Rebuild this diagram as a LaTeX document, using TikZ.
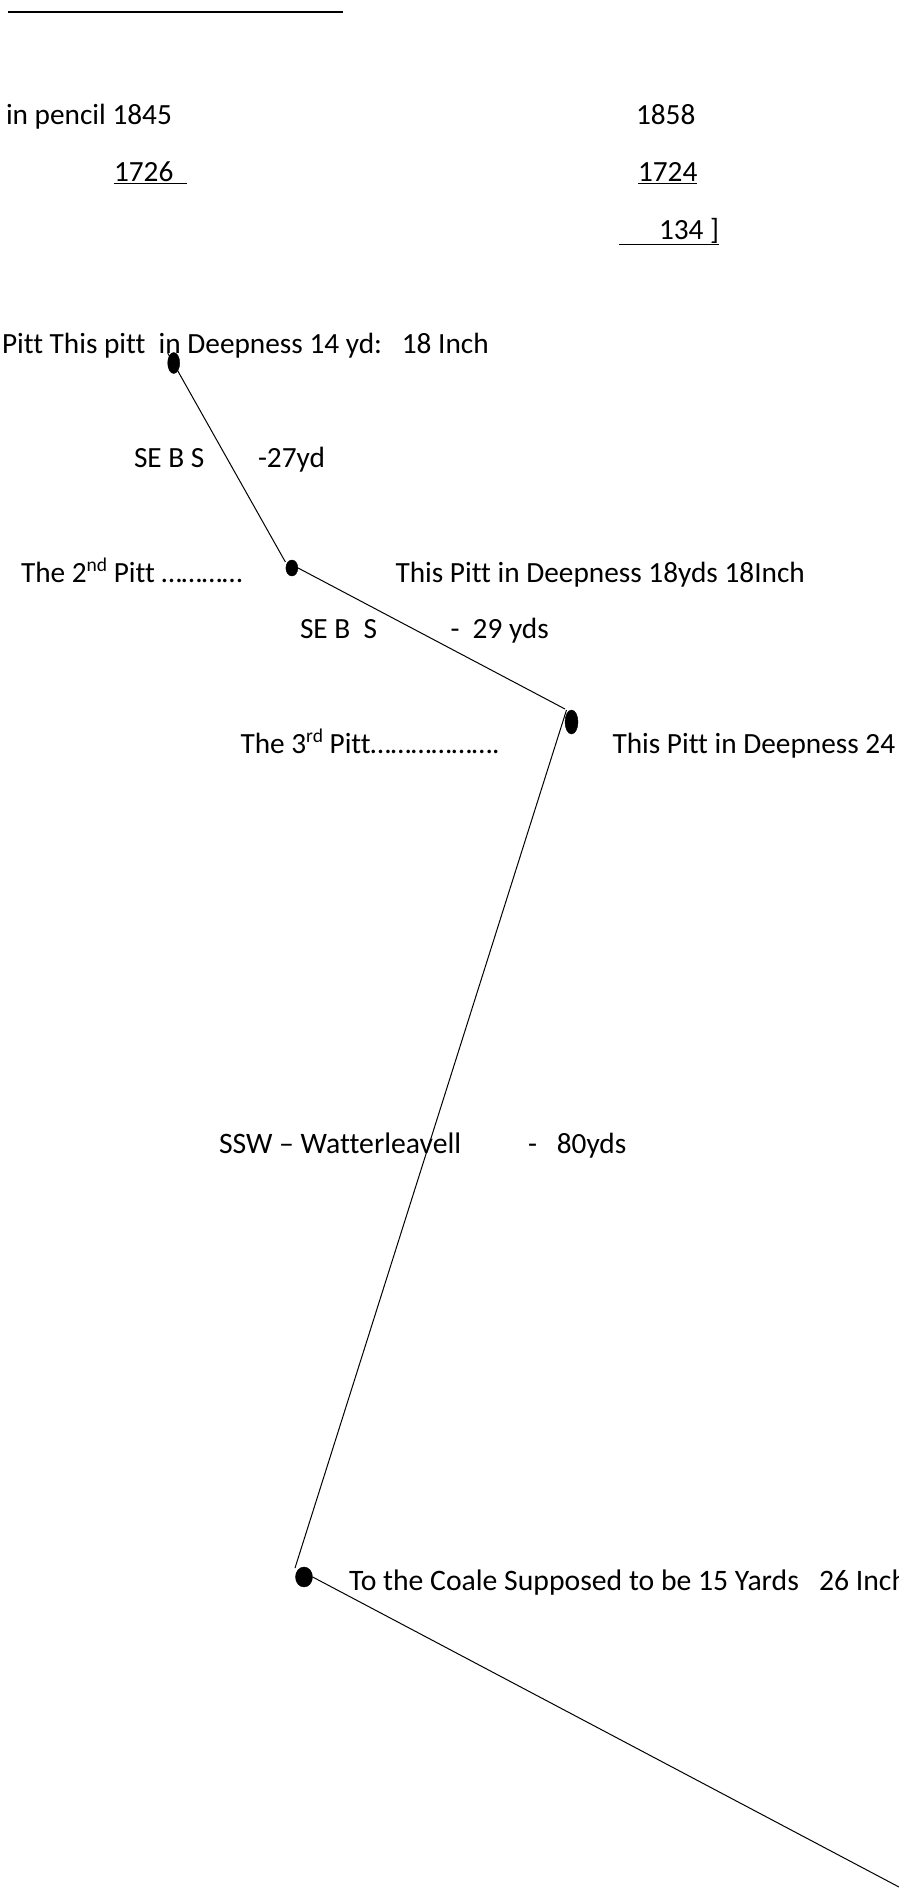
\documentclass[tikz,border=0pt]{standalone}
\usepackage{fontspec}
\usepackage{tikz}
\usetikzlibrary{positioning,shapes.geometric}
\setmainfont[Ligatures=NoCommon]{Carlito}
\newcommand{\ordsup}[1]{\raisebox{11pt}{\fontsize{19.5}{19.5}\selectfont #1}}

\begin{document}
\begin{tikzpicture}[
    x=1pt, y=-1pt,
    txt/.style={anchor=base west, inner sep=0pt, outer sep=0pt, font=\fontsize{29.3}{35}\selectfont},
    txtwide/.style={txt, font=\fontsize{29.7}{35}\selectfont},
    pitt/.style={ellipse, fill=black, draw=black, inner sep=0pt},
    seam/.style={line width=1pt, black},
    rulebar/.style={line width=2.4pt, black}
]
\clip (0,0) rectangle (899,1888);
\coordinate (barl) at (8,12);
\coordinate (barr) at (343,12);
\draw[rulebar] (barl) -- (barr);

\node[txt] (pencil) at (6,124.5) {in pencil 1845};
\node[txt] (ya) at (636,124.5) {1858};
\node[txt] (yb) at (114,181.5) {\underline{1726\hspace{13.5pt}}};
\node[txt] (yc) at (638,181.5) {\underline{1724}};
\node[txt] (yd) at (619,239) {\underline{\hspace{40pt}134 ]}};

\node[txt] (depa) at (2,353.5) {Pitt This pitt\ \ in Deepness 14 yd:\ \ \ 18 Inch};
\node[txt] (bra) at (134,467.5) {SE B S};
\node[txt] (dista) at (258,467.5) {-27yd};
\node[txt] (nameb) at (21,582.5) {The 2\ordsup{nd} Pitt …………};
\node[txt] (depb) at (395.5,582.5) {This Pitt in Deepness 18yds 18Inch};
\node[txt] (brb) at (300,638.5) {SE B\ \ S};
\node[txt] (distb) at (450.5,638.5) {-\ \ 29 yds};
\node[txt] (namec) at (240.5,753.5) {The 3\ordsup{rd} Pitt……………….};
\node[txt] (depc) at (612.5,753.5) {This Pitt in Deepness 24};
\node[txtwide] (brc) at (219,1153.5) {SSW – Watterleavell};
\node[txt] (distc) at (528,1153.5) {-\ \ \ 80yds};
\node[txtwide] (coale) at (349,1590) {To the Coale Supposed to be 15 Yards\ \ \ 26 Inch};

\node[pitt, minimum width=12pt, minimum height=21pt] (pitta) at (173.7,363) {};
\node[pitt, minimum width=12pt, minimum height=16pt] (pittb) at (291.9,568) {};
\node[pitt, minimum width=13pt, minimum height=24pt] (pittc) at (571.5,722) {};
\node[pitt, minimum width=17pt, minimum height=20pt] (pittd) at (304,1577) {};
\coordinate (edge) at (899,1887);

\draw[seam] ([shift={(-6,-10)}]pitta.center) -- ([shift={(-6.5,-6)}]pittb.center);
\draw[seam] (pittb.east) -- ([shift={(-6.5,-13)}]pittc.center);
\draw[seam] ([shift={(-5,-12)}]pittc.center) -- ([shift={(-9,-9)}]pittd.center);
\draw[seam] (pittd.east) -- (edge);
\end{tikzpicture}
\end{document}
